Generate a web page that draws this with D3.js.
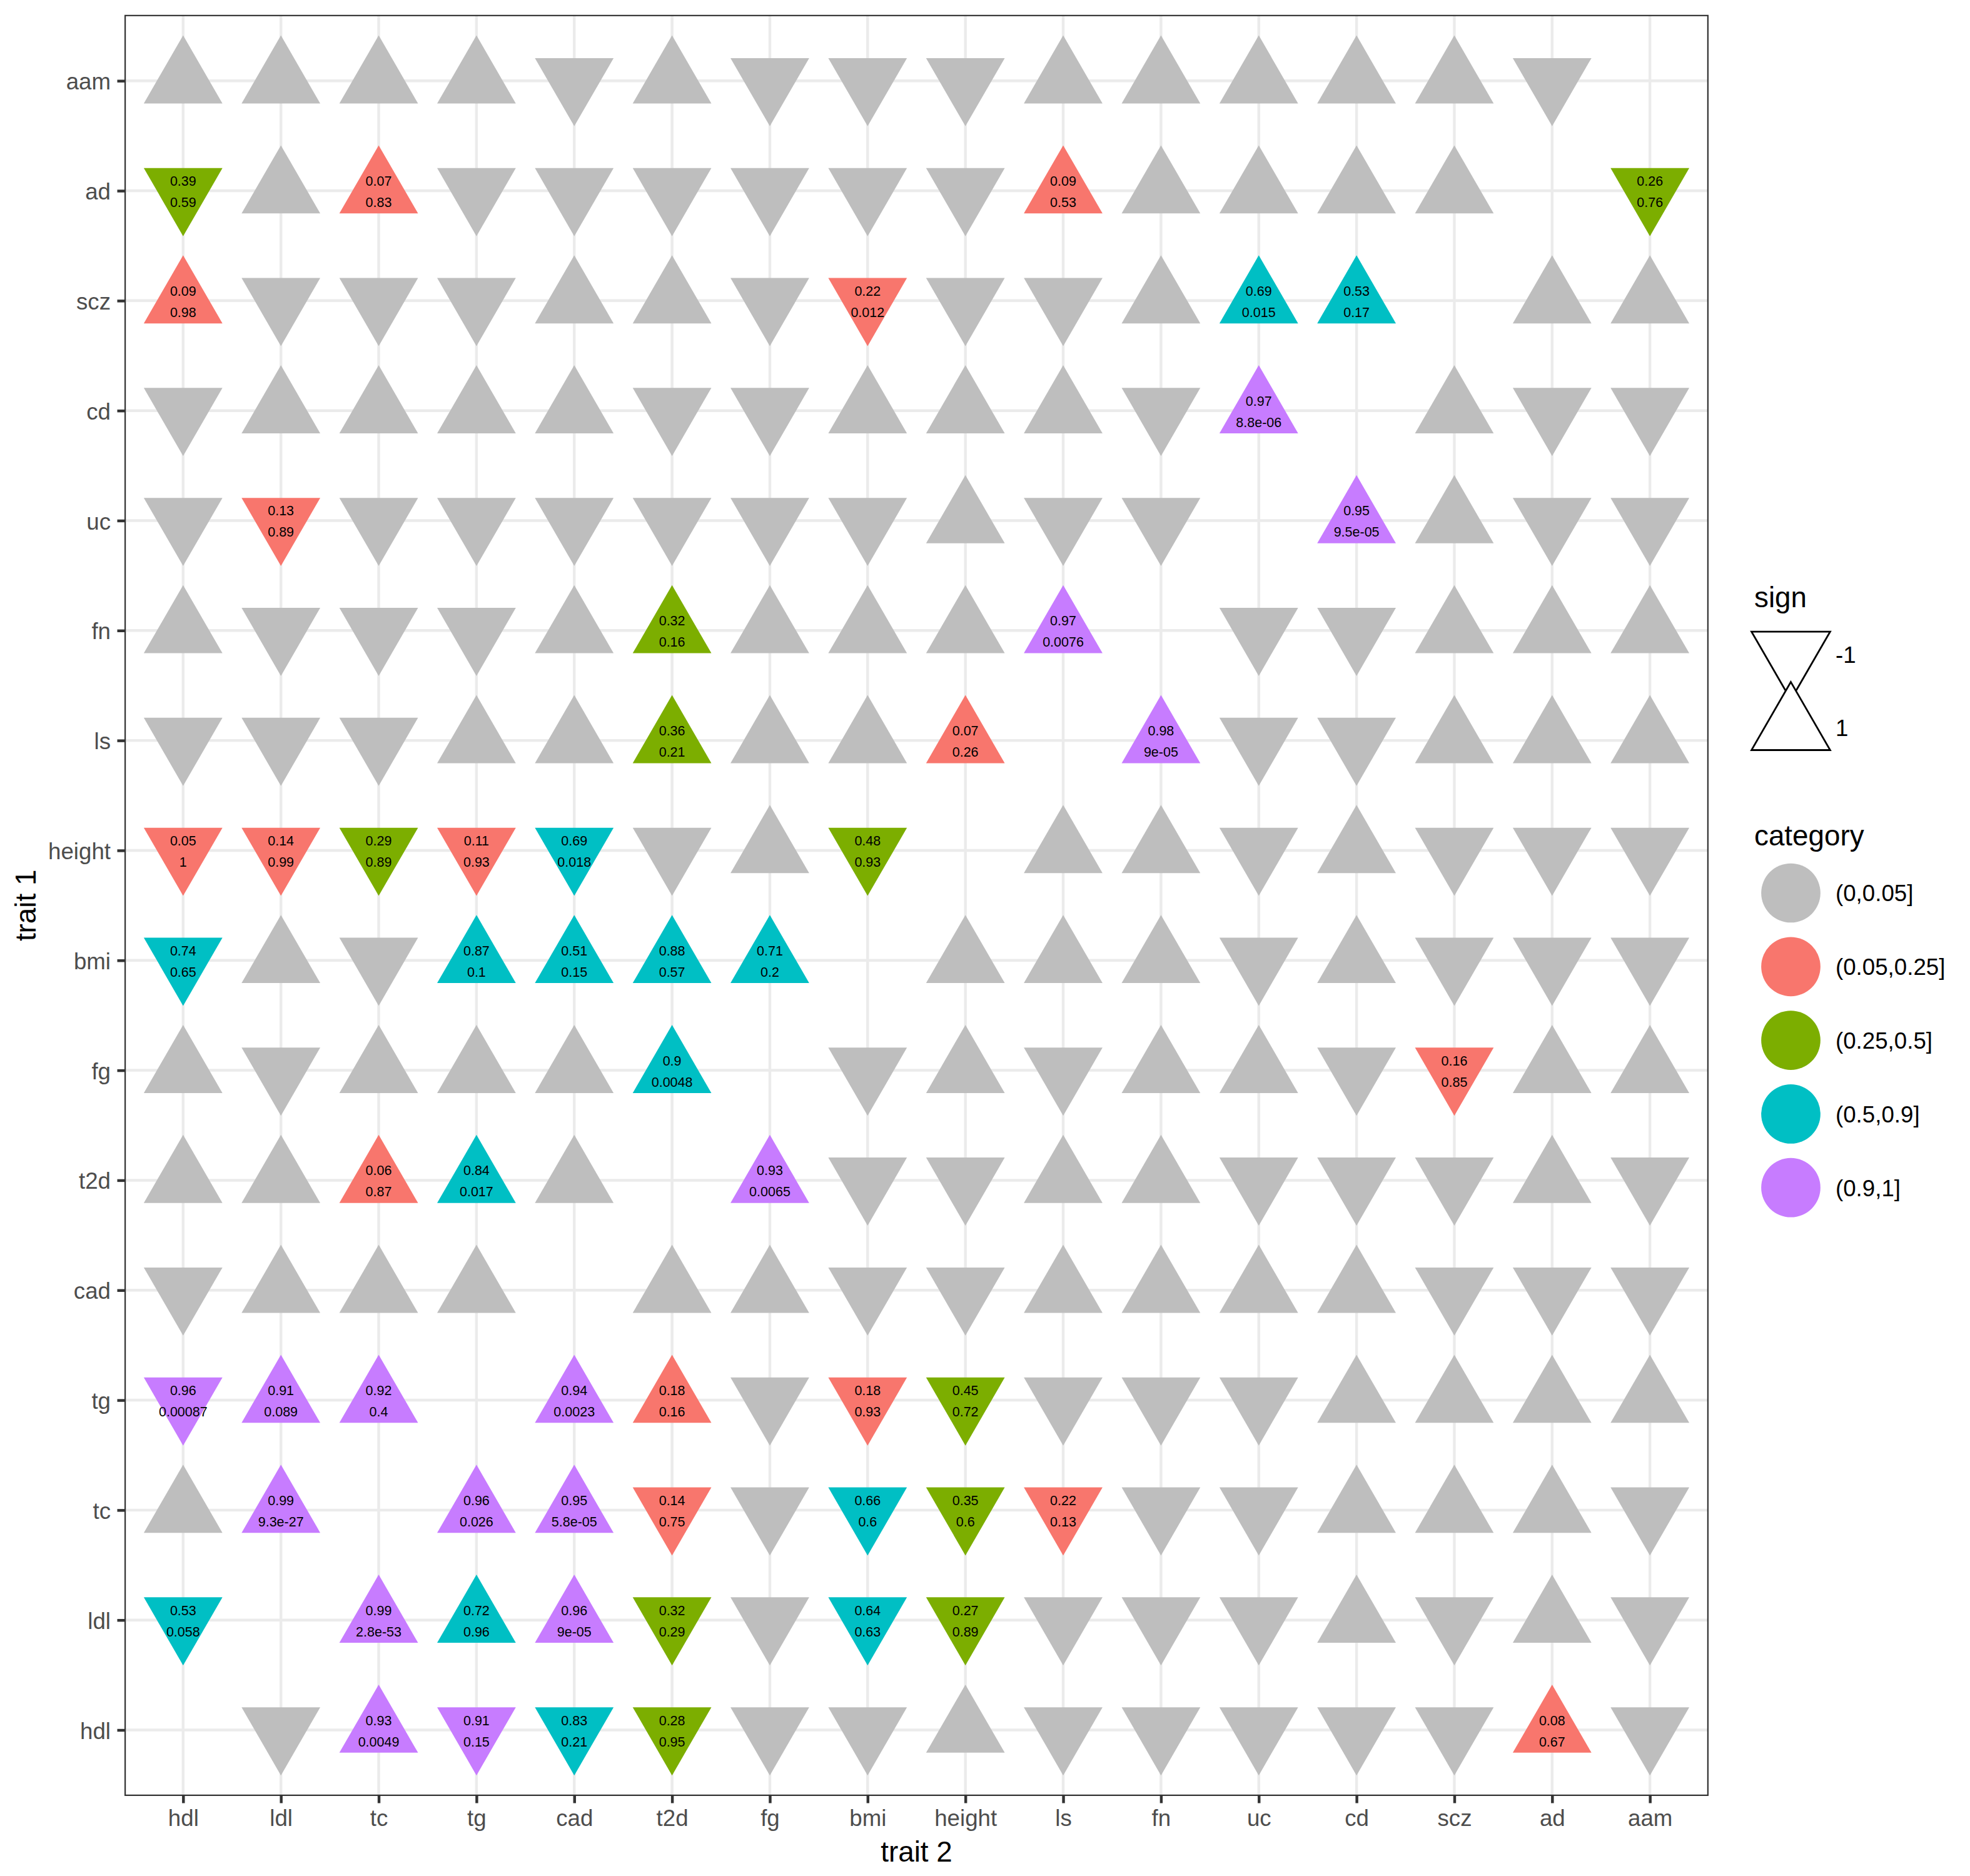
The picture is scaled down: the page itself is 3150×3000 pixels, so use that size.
<!DOCTYPE html>
<html>
<head>
<meta charset="utf-8">
<script src="https://cdn.jsdelivr.net/npm/d3@7"></script>
<style>
  html, body { margin: 0; padding: 0; background: #ffffff; }
  svg { display: block; }
</style>
</head>
<body>
<script>
// ---------------- DATA ----------------
const traits = ["hdl","ldl","tc","tg","cad","t2d","fg","bmi","height","ls","fn","uc","cd","scz","ad","aam"];

const categories = ["(0,0.05]","(0.05,0.25]","(0.25,0.5]","(0.5,0.9]","(0.9,1]"];
const categoryColors = ["#BEBEBE","#F8766D","#7CAE00","#00BFC4","#C77CFF"];

const signLevels = [-1, 1];

// sign of each cell: row = trait 1, entries follow `traits` order for trait 2 (null = diagonal)
const signs = {
  hdl:    [null,-1, 1,-1,-1,-1,-1,-1, 1,-1,-1,-1,-1,-1, 1,-1],
  ldl:    [-1,null, 1, 1, 1,-1,-1,-1,-1,-1,-1,-1, 1,-1, 1,-1],
  tc:     [ 1, 1,null, 1, 1,-1,-1,-1,-1,-1,-1,-1, 1, 1, 1,-1],
  tg:     [-1, 1, 1,null, 1, 1,-1,-1,-1,-1,-1,-1, 1, 1, 1, 1],
  cad:    [-1, 1, 1, 1,null, 1, 1,-1,-1, 1, 1, 1, 1,-1,-1,-1],
  t2d:    [ 1, 1, 1, 1, 1,null, 1,-1,-1, 1, 1,-1,-1,-1, 1,-1],
  fg:     [ 1,-1, 1, 1, 1, 1,null,-1, 1,-1, 1, 1,-1,-1, 1, 1],
  bmi:    [-1, 1,-1, 1, 1, 1, 1,null, 1, 1, 1,-1, 1,-1,-1,-1],
  height: [-1,-1,-1,-1,-1,-1, 1,-1,null, 1, 1,-1, 1,-1,-1,-1],
  ls:     [-1,-1,-1, 1, 1, 1, 1, 1, 1,null, 1,-1,-1, 1, 1, 1],
  fn:     [ 1,-1,-1,-1, 1, 1, 1, 1, 1, 1,null,-1,-1, 1, 1, 1],
  uc:     [-1,-1,-1,-1,-1,-1,-1,-1, 1,-1,-1,null, 1, 1,-1,-1],
  cd:     [-1, 1, 1, 1, 1,-1,-1, 1, 1, 1,-1, 1,null, 1,-1,-1],
  scz:    [ 1,-1,-1,-1, 1, 1,-1,-1,-1,-1, 1, 1, 1,null, 1, 1],
  ad:     [-1, 1, 1,-1,-1,-1,-1,-1,-1, 1, 1, 1, 1, 1,null,-1],
  aam:    [ 1, 1, 1, 1,-1, 1,-1,-1,-1, 1, 1, 1, 1, 1,-1,null]
};

// labelled cells: [trait 1, trait 2, category index, upper text, lower text]
// all other (non-diagonal) cells are category "(0,0.05]"
const labelled = [
  ["ad","hdl",2,"0.39","0.59"], ["ad","tc",1,"0.07","0.83"], ["ad","ls",1,"0.09","0.53"], ["ad","aam",2,"0.26","0.76"],
  ["scz","hdl",1,"0.09","0.98"], ["scz","bmi",1,"0.22","0.012"], ["scz","uc",3,"0.69","0.015"], ["scz","cd",3,"0.53","0.17"],
  ["cd","uc",4,"0.97","8.8e-06"],
  ["uc","ldl",1,"0.13","0.89"], ["uc","cd",4,"0.95","9.5e-05"],
  ["fn","t2d",2,"0.32","0.16"], ["fn","ls",4,"0.97","0.0076"],
  ["ls","t2d",2,"0.36","0.21"], ["ls","height",1,"0.07","0.26"], ["ls","fn",4,"0.98","9e-05"],
  ["height","hdl",1,"0.05","1"], ["height","ldl",1,"0.14","0.99"], ["height","tc",2,"0.29","0.89"],
  ["height","tg",1,"0.11","0.93"], ["height","cad",3,"0.69","0.018"], ["height","bmi",2,"0.48","0.93"],
  ["bmi","hdl",3,"0.74","0.65"], ["bmi","tg",3,"0.87","0.1"], ["bmi","cad",3,"0.51","0.15"],
  ["bmi","t2d",3,"0.88","0.57"], ["bmi","fg",3,"0.71","0.2"],
  ["fg","t2d",3,"0.9","0.0048"], ["fg","scz",1,"0.16","0.85"],
  ["t2d","tc",1,"0.06","0.87"], ["t2d","tg",3,"0.84","0.017"], ["t2d","fg",4,"0.93","0.0065"],
  ["tg","hdl",4,"0.96","0.00087"], ["tg","ldl",4,"0.91","0.089"], ["tg","tc",4,"0.92","0.4"],
  ["tg","cad",4,"0.94","0.0023"], ["tg","t2d",1,"0.18","0.16"], ["tg","bmi",1,"0.18","0.93"], ["tg","height",2,"0.45","0.72"],
  ["tc","ldl",4,"0.99","9.3e-27"], ["tc","tg",4,"0.96","0.026"], ["tc","cad",4,"0.95","5.8e-05"],
  ["tc","t2d",1,"0.14","0.75"], ["tc","bmi",3,"0.66","0.6"], ["tc","height",2,"0.35","0.6"], ["tc","ls",1,"0.22","0.13"],
  ["ldl","hdl",3,"0.53","0.058"], ["ldl","tc",4,"0.99","2.8e-53"], ["ldl","tg",3,"0.72","0.96"],
  ["ldl","cad",4,"0.96","9e-05"], ["ldl","t2d",2,"0.32","0.29"], ["ldl","bmi",3,"0.64","0.63"], ["ldl","height",2,"0.27","0.89"],
  ["hdl","tc",4,"0.93","0.0049"], ["hdl","tg",4,"0.91","0.15"], ["hdl","cad",3,"0.83","0.21"],
  ["hdl","t2d",2,"0.28","0.95"], ["hdl","ad",1,"0.08","0.67"]
];

// ---------------- BUILD TABLE ----------------
const labelMap = new Map(labelled.map(d => [d[0] + "|" + d[1], d]));
const cells = [];
traits.forEach(t1 => {
  traits.forEach((t2, j) => {
    const s = signs[t1][j];
    if (s === null) return;
    const lab = labelMap.get(t1 + "|" + t2);
    cells.push({
      t1, t2, sign: s,
      cat: lab ? categories[lab[2]] : categories[0],
      top: lab ? lab[3] : null,
      bottom: lab ? lab[4] : null
    });
  });
});

// ---------------- LAYOUT ----------------
const W = 3150, H = 3000;
const P = { left: 199, right: 2732, top: 23.7, bottom: 2872 };
const FONT = "'Liberation Sans', Arial, Helvetica, sans-serif";
const LW = 4.45;

const svg = d3.select("body").append("svg")
  .attr("width", W).attr("height", H)
  .attr("viewBox", `0 0 ${W} ${H}`);
svg.append("rect").attr("width", W).attr("height", H).attr("fill", "#ffffff");

const x = d3.scalePoint().domain(traits).range([P.left, P.right]).padding(0.6);
const y = d3.scalePoint().domain(traits).range([P.bottom, P.top]).padding(0.6);
const color = d3.scaleOrdinal().domain(categories).range(categoryColors);

// triangle geometry (R pch 24/25 proportions)
const R = 46.7;
const TR0 = 1.5551, TR1 = 1.3468, TR2 = 0.7776;
function triPath(sign) {
  const r = TR0 * R, xc = TR1 * R, yc = TR2 * R;
  if (sign === 1) return `M0,${-r}L${xc},${yc}L${-xc},${yc}Z`;
  return `M0,${r}L${xc},${-yc}L${-xc},${-yc}Z`;
}

// clip for panel
svg.append("defs").append("clipPath").attr("id", "panelClip")
  .append("rect").attr("x", P.left).attr("y", P.top)
  .attr("width", P.right - P.left).attr("height", P.bottom - P.top);

const panel = svg.append("g").attr("clip-path", "url(#panelClip)");

// grid
panel.append("g").selectAll("line.v").data(traits).join("line")
  .attr("x1", d => x(d)).attr("x2", d => x(d))
  .attr("y1", P.top).attr("y2", P.bottom)
  .attr("stroke", "#EBEBEB").attr("stroke-width", LW);
panel.append("g").selectAll("line.h").data(traits).join("line")
  .attr("y1", d => y(d)).attr("y2", d => y(d))
  .attr("x1", P.left).attr("x2", P.right)
  .attr("stroke", "#EBEBEB").attr("stroke-width", LW);

// triangles
panel.append("g").selectAll("path").data(cells).join("path")
  .attr("transform", d => `translate(${x(d.t2)},${y(d.t1)})`)
  .attr("d", d => triPath(d.sign))
  .attr("fill", d => color(d.cat));

// labels
const lab = panel.append("g")
  .attr("font-family", FONT).attr("font-size", 21.5)
  .attr("fill", "#000000").attr("text-anchor", "middle");
const labCells = cells.filter(d => d.top !== null);
lab.selectAll("text.a").data(labCells).join("text")
  .attr("x", d => x(d.t2)).attr("y", d => y(d.t1) - 8)
  .text(d => d.top);
lab.selectAll("text.b").data(labCells).join("text")
  .attr("x", d => x(d.t2)).attr("y", d => y(d.t1) + 26)
  .text(d => d.bottom);

// panel border
panel.append("rect")
  .attr("x", P.left).attr("y", P.top)
  .attr("width", P.right - P.left).attr("height", P.bottom - P.top)
  .attr("fill", "none").attr("stroke", "#333333").attr("stroke-width", LW);

// axes
const xAxis = svg.append("g").attr("transform", `translate(0,${P.bottom})`)
  .call(d3.axisBottom(x).tickSize(11.5).tickPadding(10.5));
const yAxis = svg.append("g").attr("transform", `translate(${P.left},0)`)
  .call(d3.axisLeft(y).tickSize(11.5).tickPadding(10.5));
[xAxis, yAxis].forEach(g => {
  g.select(".domain").remove();
  g.selectAll(".tick line").attr("stroke", "#333333").attr("stroke-width", LW);
  g.selectAll(".tick text").attr("fill", "#4D4D4D")
    .attr("font-family", FONT).attr("font-size", 36.7);
  g.attr("font-family", FONT).attr("font-size", 36.7);
});
yAxis.selectAll(".tick text").attr("dy", "0.37em");

// axis titles
svg.append("text")
  .attr("x", (P.left + P.right) / 2).attr("y", 2977)
  .attr("text-anchor", "middle")
  .attr("font-family", FONT).attr("font-size", 45.8).attr("fill", "#000000")
  .text("trait 2");
svg.append("text")
  .attr("transform", `translate(57,${(P.top + P.bottom) / 2}) rotate(-90)`)
  .attr("text-anchor", "middle")
  .attr("font-family", FONT).attr("font-size", 45.8).attr("fill", "#000000")
  .text("trait 1");

// ---------------- LEGENDS ----------------
const LX = 2805, KEYX = 2863.5, LABX = 2935;
const leg = svg.append("g").attr("font-family", FONT);

// sign legend
leg.append("text").attr("x", LX).attr("y", 971)
  .attr("font-size", 45.8).attr("fill", "#000").text("sign");
const signKeyY = d3.scalePoint().domain(signLevels).range([1046.4, 1163.2]);
const signKeys = leg.append("g").selectAll("g").data(signLevels).join("g")
  .attr("transform", d => `translate(${KEYX},${signKeyY(d)})`);
signKeys.append("rect")
  .attr("x", -64).attr("y", -58.4).attr("width", 128).attr("height", 116.8)
  .attr("fill", "#ffffff");
signKeys.append("path")
  .attr("d", d => triPath(d))
  .attr("fill", "none").attr("stroke", "#000000").attr("stroke-width", 2.8)
  .attr("stroke-linejoin", "miter");
leg.append("g").selectAll("text").data(signLevels).join("text")
  .attr("x", LABX).attr("y", d => signKeyY(d) + 13.4)
  .attr("font-size", 36.7).attr("fill", "#000")
  .text(d => String(d));

// category legend
leg.append("text").attr("x", LX).attr("y", 1352)
  .attr("font-size", 45.8).attr("fill", "#000").text("category");
const catKeyY = d3.scalePoint().domain(categories).range([1428, 1899.2]);
leg.append("g").selectAll("circle").data(categories).join("circle")
  .attr("cx", KEYX).attr("cy", d => catKeyY(d)).attr("r", 47.35)
  .attr("fill", d => color(d));
leg.append("g").selectAll("text").data(categories).join("text")
  .attr("x", LABX).attr("y", d => catKeyY(d) + 13.4)
  .attr("font-size", 36.7).attr("fill", "#000")
  .text(d => d);
</script>
</body>
</html>
